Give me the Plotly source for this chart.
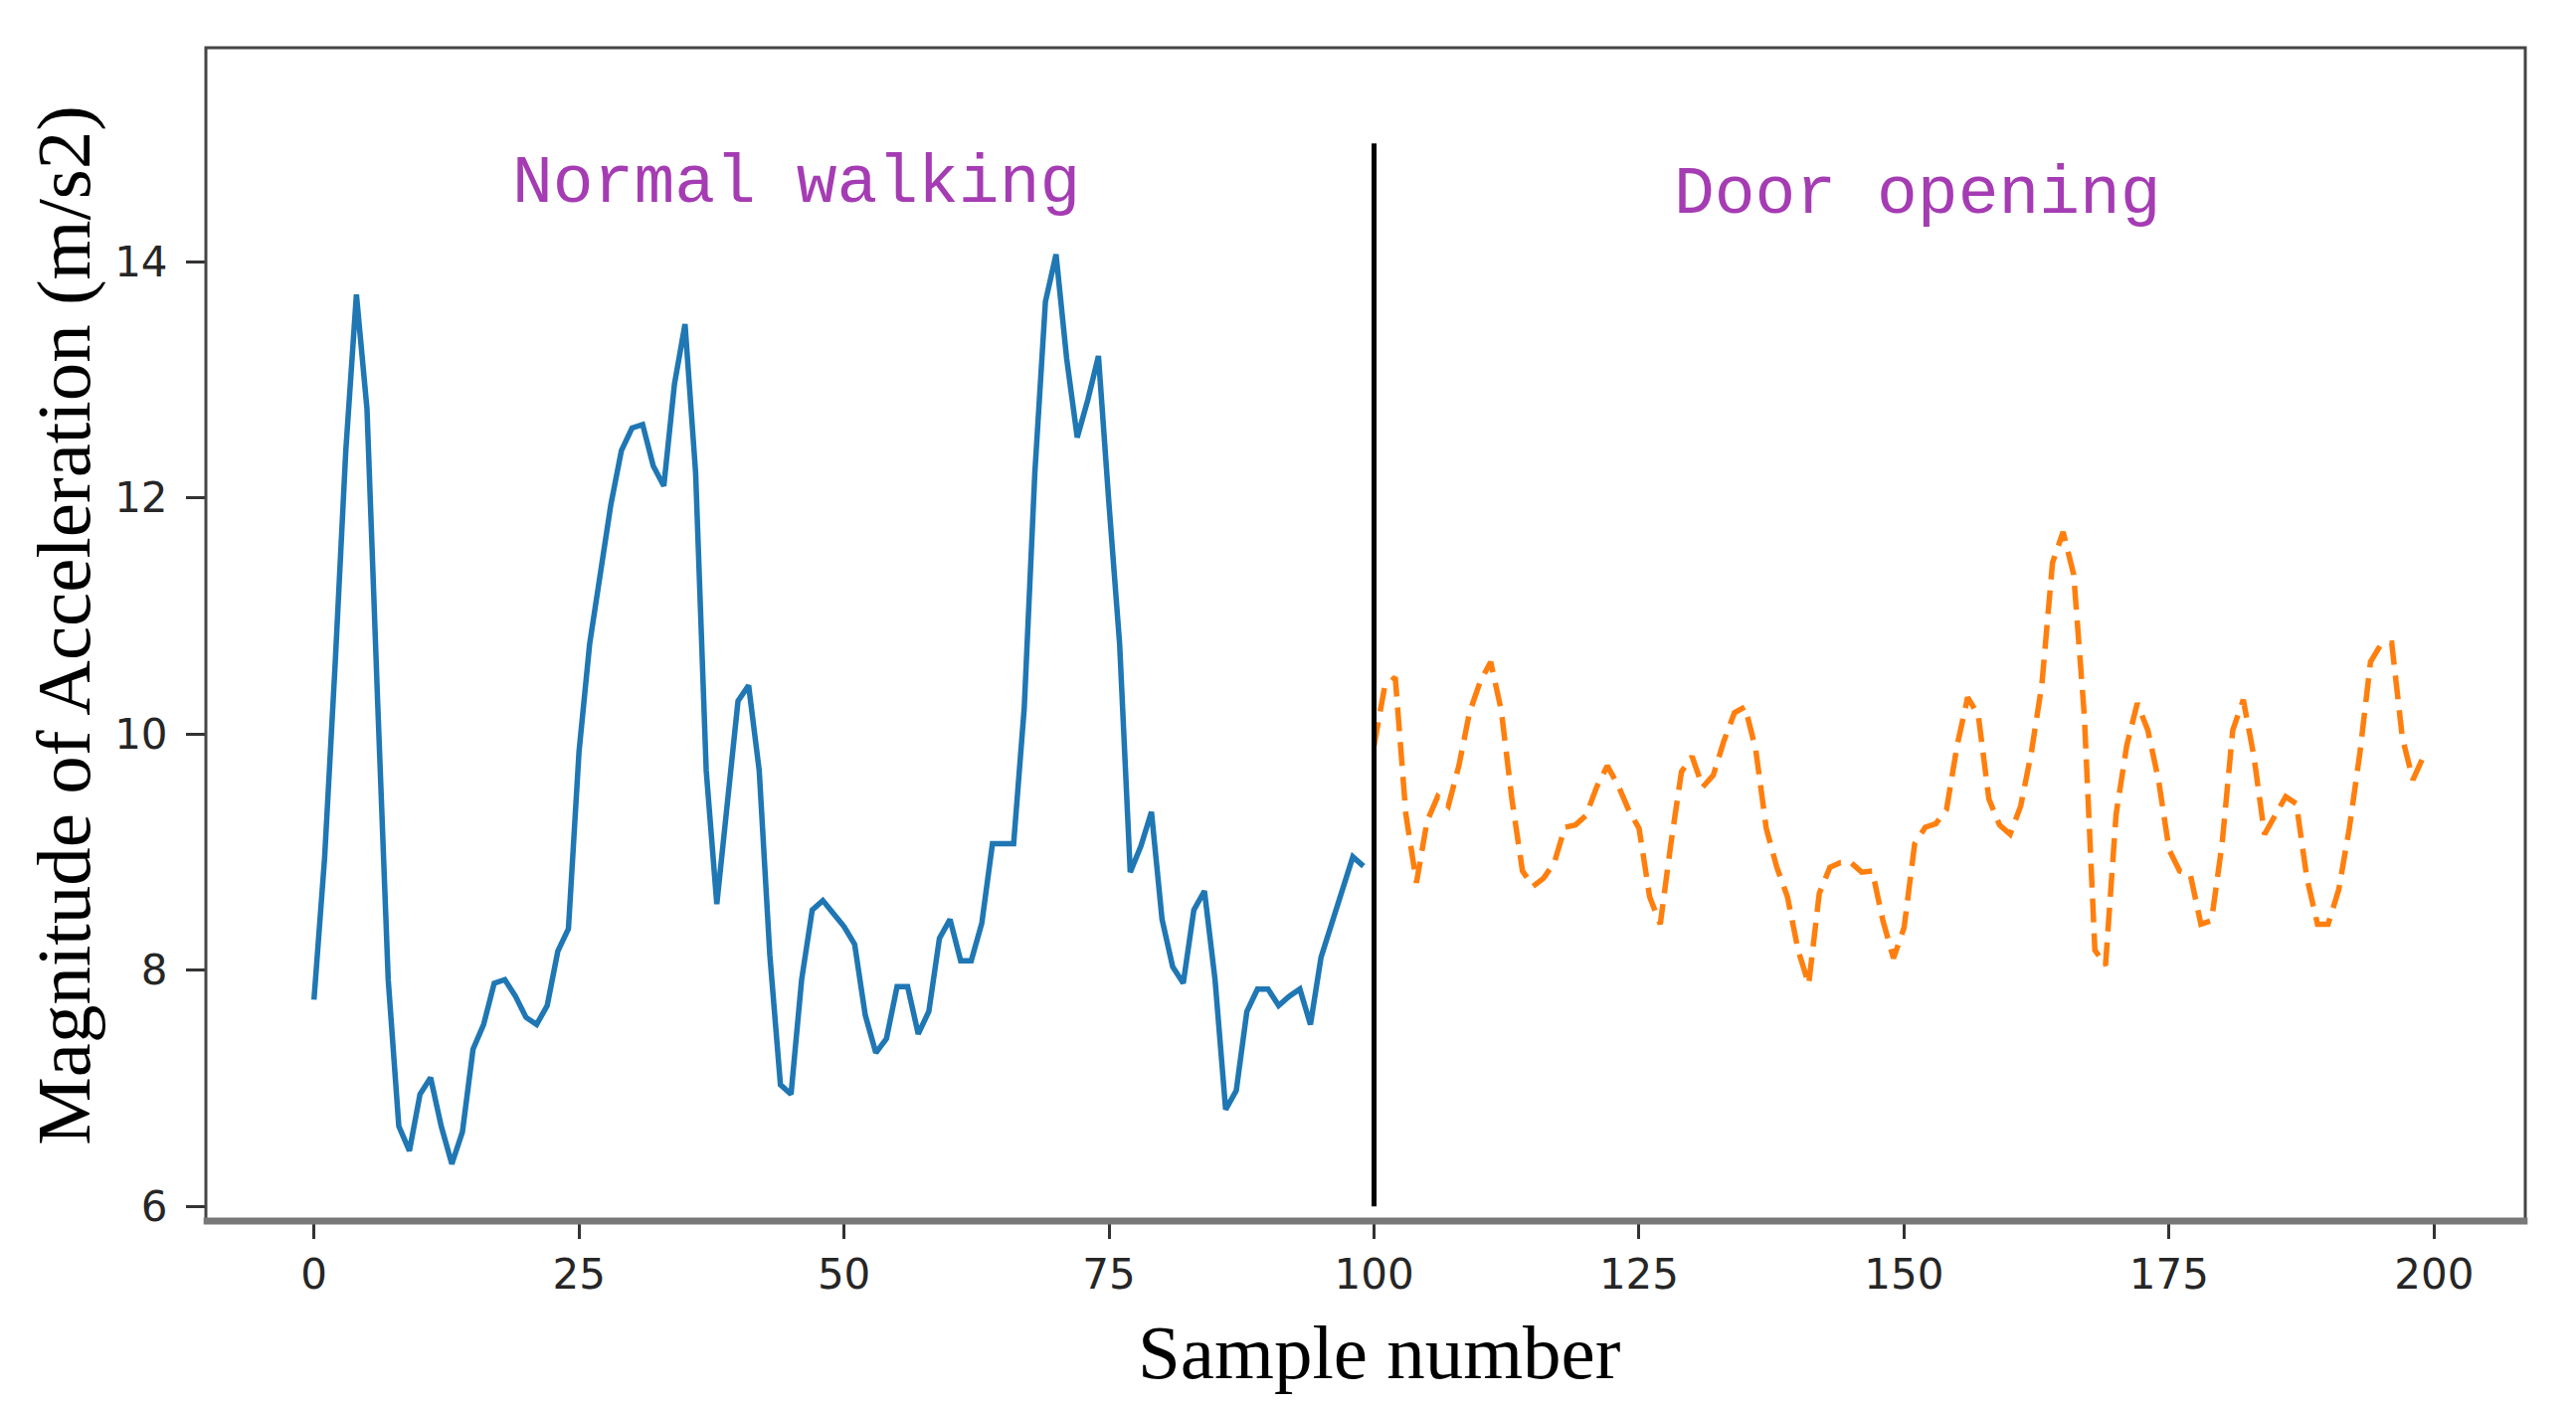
import plotly.graph_objects as go

# ---- data ----
walk_x = list(range(0, 100))
walk_y = [7.75, 8.95, 10.6, 12.4, 13.72, 12.75, 10.28, 7.92, 6.68, 6.47,
          6.95, 7.09, 6.68, 6.36, 6.63, 7.33, 7.54, 7.89, 7.92, 7.78,
          7.6, 7.54, 7.7, 8.16, 8.35, 9.85, 10.76, 11.35, 11.94, 12.4,
          12.59, 12.62, 12.27, 12.1, 12.96, 13.47, 12.21, 9.69, 8.56, 9.42,
          10.28, 10.41, 9.69, 8.13, 7.03, 6.95, 7.92, 8.51, 8.59, 8.48,
          8.37, 8.22, 7.62, 7.3, 7.42, 7.86, 7.86, 7.46, 7.65, 8.27,
          8.43, 8.08, 8.08, 8.4, 9.07, 9.07, 9.07, 10.22, 12.21, 13.66,
          14.06, 13.18, 12.51, 12.83, 13.2, 11.94, 10.76, 8.83, 9.05, 9.34,
          8.43, 8.03, 7.89, 8.51, 8.67, 7.92, 6.82, 6.98, 7.65, 7.84,
          7.84, 7.7, 7.78, 7.84, 7.54, 8.11, 8.4, 8.7, 8.96, 8.88]

door_x = list(range(100, 200))
door_y = [9.90, 10.40, 10.48, 9.32, 8.74, 9.26, 9.47, 9.39, 9.73, 10.18,
          10.44, 10.61, 10.2, 9.45, 8.84, 8.71, 8.78, 8.91, 9.21, 9.23,
          9.31, 9.55, 9.73, 9.57, 9.36, 9.2, 8.62, 8.39, 9.07, 9.68,
          9.81, 9.55, 9.65, 9.94, 10.18, 10.23, 9.87, 9.2, 8.87, 8.62,
          8.17, 7.88, 8.65, 8.87, 8.91, 8.91, 8.83, 8.84, 8.42, 8.1,
          8.36, 9.07, 9.21, 9.24, 9.36, 9.90, 10.31, 10.16, 9.45, 9.23,
          9.15, 9.39, 9.84, 10.42, 11.45, 11.71, 11.35, 10.16, 8.17, 8.04,
          9.32, 9.90, 10.26, 10.03, 9.61, 9.02, 8.84, 8.81, 8.39, 8.42,
          9.07, 10.03, 10.29, 9.81, 9.15, 9.32, 9.47, 9.41, 8.78, 8.39,
          8.39, 8.68, 9.2, 9.84, 10.61, 10.76, 10.77, 9.97, 9.61, 9.81]

split_x = [100, 100]
split_y = [6, 15]

x_ticks = [0, 25, 50, 75, 100, 125, 150, 175, 200]
y_ticks = [6, 8, 10, 12, 14]

labels = ["Normal walking", "Door opening"]
label_x = [45.5, 151.3]
label_y = [14.66, 14.57]

x_title = "Sample number"
y_title = "Magnitude of Acceleration (m/s2)"

# ---- figure ----
fig = go.Figure()
fig.add_trace(go.Scatter(x=walk_x, y=walk_y, mode="lines",
                         line=dict(color="#1f77b4", width=5.5),
                         showlegend=False))
fig.add_trace(go.Scatter(x=door_x, y=door_y, mode="lines",
                         line=dict(color="#ff7f0e", width=5.5, dash="24px,11px"),
                         showlegend=False))
fig.add_trace(go.Scatter(x=split_x, y=split_y, mode="lines",
                         line=dict(color="black", width=5),
                         showlegend=False))

purple = "#A53CB3"
for t, xx, yy in zip(labels, label_x, label_y):
    fig.add_annotation(x=xx, y=yy, xref="x", yref="y", text=t, showarrow=False,
                       xanchor="center", yanchor="middle",
                       font=dict(family="Liberation Mono", size=68, color=purple))

fig.add_annotation(x=100.5, y=-0.112, xref="x", yref="paper", text=x_title,
                   showarrow=False, xanchor="center", yanchor="middle",
                   font=dict(family="Liberation Serif", size=77, color="black"))
fig.add_annotation(x=-0.0617, y=0.508, xref="paper", yref="paper", text=y_title,
                   showarrow=False, xanchor="center", yanchor="middle", textangle=-90,
                   font=dict(family="Liberation Serif", size=77, color="black"))

# frame
fig.add_shape(type="rect", xref="paper", yref="paper", x0=0, x1=1, y0=0, y1=1,
              line=dict(color="#454545", width=3), layer="above")
fig.add_shape(type="line", xref="paper", yref="paper", x0=-0.001, x1=1.001, y0=0, y1=0,
              line=dict(color="#787878", width=7), layer="above")

tick_font = dict(family="DejaVu Sans", size=42, color="#262626")
fig.update_xaxes(range=[-10.2, 208.6], tickvals=x_ticks, ticktext=[str(v) for v in x_ticks],
                 ticks="outside", ticklen=17, tickwidth=3, tickcolor="#333333",
                 showgrid=False, zeroline=False, showline=False,
                 tickfont=tick_font, ticklabelstandoff=0)
fig.update_yaxes(range=[5.876, 15.81], tickvals=y_ticks, ticktext=[str(v) for v in y_ticks],
                 ticks="outside", ticklen=19, tickwidth=3, tickcolor="#333333",
                 showgrid=False, zeroline=False, showline=False,
                 tickfont=tick_font, ticklabelstandoff=10)

fig.update_layout(width=2590, height=1413, autosize=False,
                  margin=dict(l=207, r=51, t=48, b=185),
                  plot_bgcolor="white", paper_bgcolor="white")

fig.write_html("out.html", config={"displayModeBar": False},
               post_script="document.body.style.margin='0';document.body.style.overflow='hidden';")
